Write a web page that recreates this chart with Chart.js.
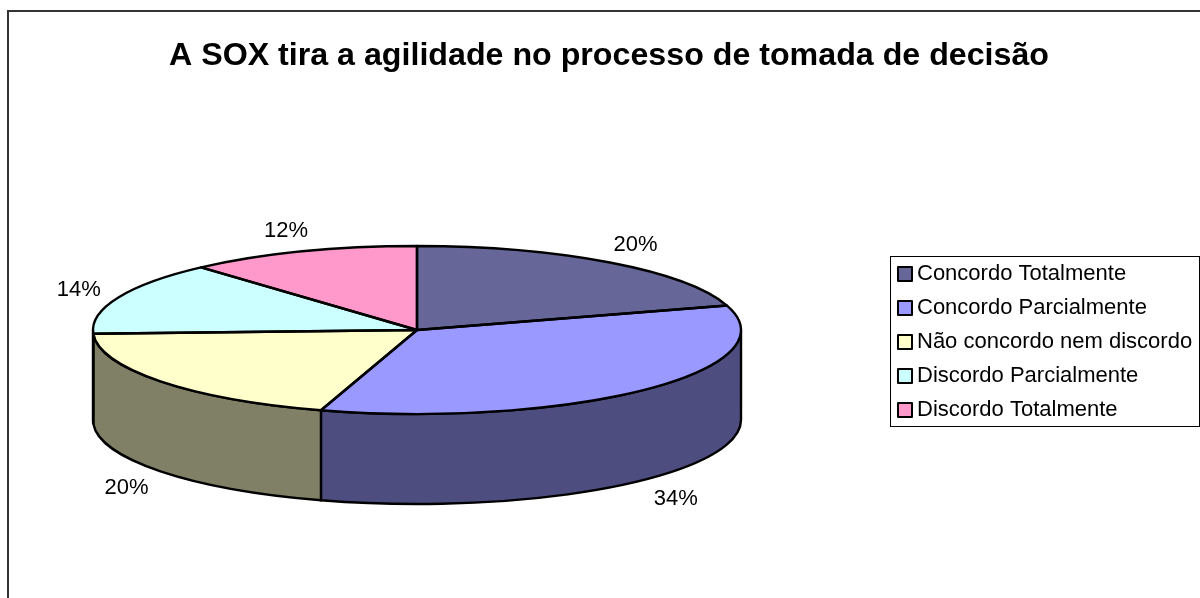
<!DOCTYPE html>
<html>
<head>
<meta charset="utf-8">
<title>A SOX tira a agilidade</title>
<script src="https://cdn.jsdelivr.net/npm/chart.js@4"></script>
<style>
  html, body { margin: 0; padding: 0; background: #fff; overflow: hidden; }
  canvas { display: block; }
</style>
</head>
<body>
<canvas id="sox-pie" width="1200" height="598"></canvas>
<script>
var chartTitle = 'A SOX tira a agilidade no processo de tomada de decisão';
var categories = ['Concordo Totalmente', 'Concordo Parcialmente', 'Não concordo nem discordo', 'Discordo Parcialmente', 'Discordo Totalmente'];
// printed as 20/34/20/14/12, decimals estimated from the slice edges
var values = [20.3, 34.49, 19.5, 14.1, 11.61];
var topColors = ['#666699', '#9999FF', '#FFFFCC', '#CCFFFF', '#FF99CC'];
var sideColors = ['#4D4D73', '#4D4D80', '#808066', '#668080', '#804D66'];

// the pie is squashed onto this ellipse to fake the tilted 3D look
var CX = 417, CY = 330, RX = 324, RY = 84, DEPTH = 90;
var LABEL_RX = 367, LABEL_RY = 108, LABEL_DY = 2;
var LEGEND_FONT = 22, LEGEND_GAP = 12;
var PIE_LINE = 2.4;

function pieTransform(ctx, arc) {
  var sx = RX / arc.outerRadius, sy = RY / arc.outerRadius;
  ctx.translate(CX, CY);
  ctx.scale(sx, sy);
  ctx.translate(-arc.x, -arc.y);
}

function ellipsePoint(a) {
  return { x: CX + RX * Math.cos(a), y: CY + RY * Math.sin(a) };
}

var pie3d = {
  id: 'pie3d',
  beforeDatasetsDraw: function (chart) {
    var ctx = chart.ctx;
    var arcs = chart.getDatasetMeta(0).data;

    // side walls, only the part of each slice facing the viewer
    arcs.forEach(function (arc, i) {
      var a0 = Math.max(arc.startAngle, 0);
      var a1 = Math.min(arc.endAngle, Math.PI);
      if (a1 <= a0) return;
      ctx.beginPath();
      ctx.ellipse(CX, CY, RX, RY, 0, a0, a1);
      ctx.ellipse(CX, CY + DEPTH, RX, RY, 0, a1, a0, true);
      ctx.closePath();
      ctx.fillStyle = sideColors[i];
      ctx.fill();
      ctx.lineWidth = PIE_LINE;
      ctx.strokeStyle = '#000';
      ctx.stroke();
    });

    ctx.save();
    pieTransform(ctx, arcs[0]);
  },
  afterDatasetsDraw: function (chart) {
    var ctx = chart.ctx;
    var arcs = chart.getDatasetMeta(0).data;
    ctx.restore();

    // outlines drawn here so the squash does not distort the line width
    ctx.lineWidth = PIE_LINE;
    ctx.strokeStyle = '#000';
    ctx.lineJoin = 'round';
    arcs.forEach(function (arc) {
      var p = ellipsePoint(arc.startAngle);
      ctx.beginPath();
      ctx.moveTo(CX, CY);
      ctx.lineTo(p.x, p.y);
      ctx.ellipse(CX, CY, RX, RY, 0, arc.startAngle, arc.endAngle);
      ctx.closePath();
      ctx.stroke();
    });

    // percent labels around the pie
    var total = values.reduce(function (s, v) { return s + v; }, 0);
    ctx.fillStyle = '#000';
    ctx.font = '22px "Liberation Sans", Arial, sans-serif';
    ctx.textAlign = 'center';
    ctx.textBaseline = 'middle';
    arcs.forEach(function (arc, i) {
      var mid = (arc.startAngle + arc.endAngle) / 2;
      var x = CX + LABEL_RX * Math.cos(mid);
      var y = CY + LABEL_DY + LABEL_RY * Math.sin(mid);
      if (Math.sin(mid) > 0) y += DEPTH;
      ctx.fillText(Math.round(values[i] / total * 100) + '%', x, y);
    });
  },
  afterLayout: function (chart) {
    var lg = chart.legend;
    // bottom stays large, the legend wraps into a new column past it
    lg.left = 886; lg.right = 1199; lg.top = 251; lg.bottom = 598;
  },
  beforeDraw: function (chart) {
    var ctx = chart.ctx;
    ctx.save();
    // chart frame, open on the right and bottom like the source
    ctx.strokeStyle = '#333';
    ctx.lineWidth = 2;
    ctx.beginPath();
    ctx.moveTo(8, 598);
    ctx.lineTo(8, 11);
    ctx.lineTo(1200, 11);
    ctx.stroke();
    // legend box
    ctx.strokeStyle = '#000';
    ctx.lineWidth = 1;
    ctx.strokeRect(890.5, 256.5, 309, 170);
    ctx.restore();
  },
  afterDraw: function (chart) {
    // swatches sit closer to the text than the legend's own box allows
    var ctx = chart.ctx;
    var lg = chart.legend;
    ctx.save();
    ctx.lineWidth = 2;
    ctx.strokeStyle = '#000';
    topColors.forEach(function (c, i) {
      var mid = lg.top + LEGEND_GAP + LEGEND_FONT / 2 + i * (LEGEND_FONT + LEGEND_GAP);
      ctx.fillStyle = c;
      ctx.fillRect(898, mid - 7, 14, 14);
      ctx.strokeRect(898, mid - 7, 14, 14);
    });
    ctx.restore();
  }
};

var ctx = document.getElementById('sox-pie');
var soxChart = new Chart(ctx, {
  type: 'pie',
  data: {
    labels: categories,
    datasets: [{
      data: values,
      backgroundColor: topColors,
      borderWidth: 0
    }]
  },
  options: {
    responsive: false,
    animation: false,
    layout: { padding: { left: 18 } },
    events: [],
    plugins: {
      tooltip: { enabled: false },
      title: {
        display: true,
        text: chartTitle,
        color: '#000',
        font: { family: '"Liberation Sans", Arial, sans-serif', size: 32.2, weight: 'bold' },
        padding: { top: 37, bottom: 10 }
      },
      legend: {
        position: 'right',
        align: 'start',
        labels: {
          color: '#000',
          font: { family: '"Liberation Sans", Arial, sans-serif', size: LEGEND_FONT },
          boxWidth: 8,
          boxHeight: 8,
          padding: LEGEND_GAP,
          generateLabels: function () {
            return categories.map(function (name, i) {
              return { text: name, fillStyle: 'transparent', strokeStyle: 'transparent', lineWidth: 0, index: i };
            });
          }
        }
      }
    }
  },
  plugins: [pie3d]
});
</script>
</body>
</html>
